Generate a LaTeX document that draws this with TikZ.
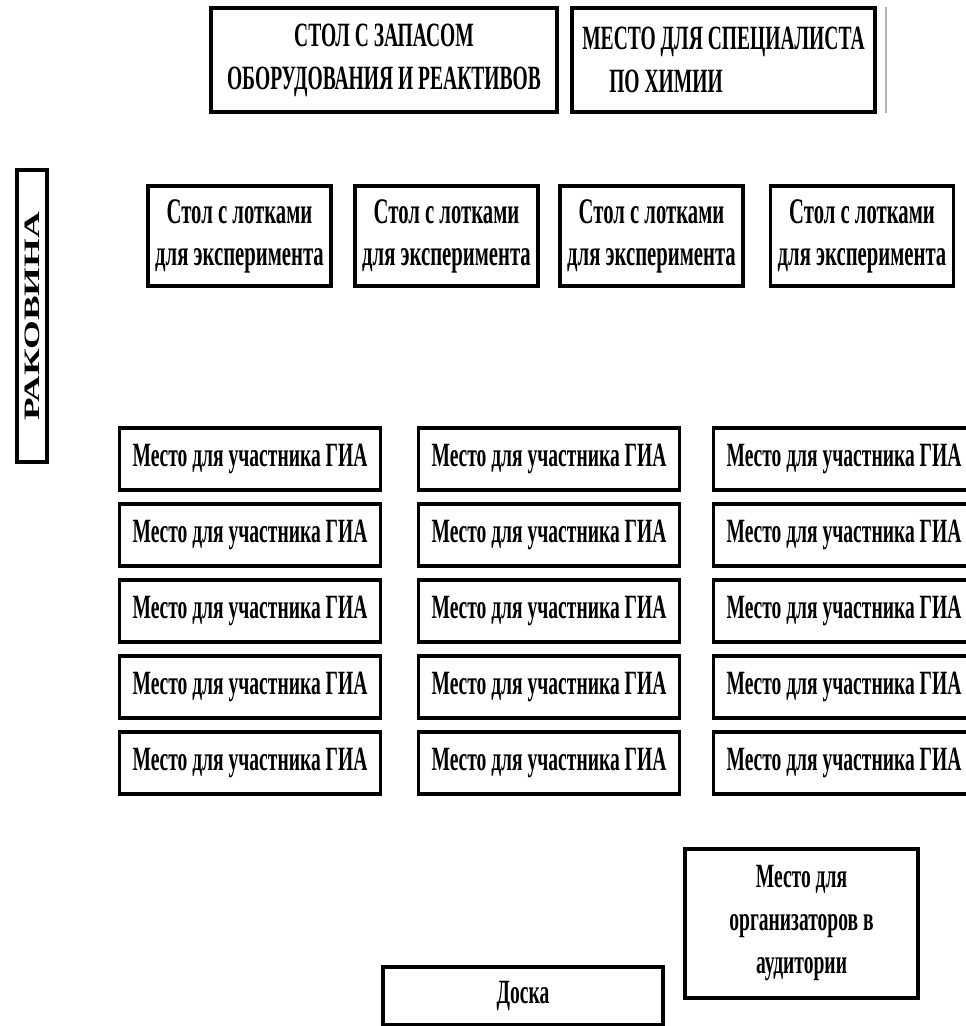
\documentclass[tikz,border=0pt]{standalone}
\usepackage{fontspec}
\setmainfont{Liberation Serif}
\newfontfamily\planfont{Liberation Serif}[FakeStretch=0.575]
\newfontfamily\sinkfont{Liberation Serif}[FakeStretch=1.68]
\usetikzlibrary{positioning}

\tikzset{
	box/.style = {draw, line width = 3.2pt, inner sep = 0pt, align = center,
		font = \planfont\bfseries\fontsize{34}{43}\selectfont},
	topbox/.style = {box, minimum height = 104pt},
	trays/.style = {box, minimum width = 183pt, minimum height = 100pt,
		font = \planfont\bfseries\fontsize{36}{42}\selectfont},
	seat/.style = {box, minimum width = 261pt, minimum height = 62pt}
}

\begin{document}
\begin{tikzpicture}[x = 1pt, y = 1pt, node distance = 76pt and 299pt, on grid]
	\useasboundingbox (0,0) rectangle (966,-1026);
	%\draw[help lines, step = 50] (0,0) grid (966,-1026);
	\clip (0,0) rectangle (966,-1026);
	\node (stock) [topbox, minimum width = 346pt] at (384,-60)
		{СТОЛ С ЗАПАСОМ\\ОБОРУДОВАНИЯ И РЕАКТИВОВ};
	\node (chemist) [topbox, minimum width = 303pt, align = left] at (723.5,-60)
		{МЕСТО ДЛЯ СПЕЦИАЛИСТА\\\hspace*{27pt}ПО ХИМИИ};
	\draw[gray!60, line width = 1.2pt] (886,-7) -- (886,-113);
	
	\node (sink) [draw, line width = 3.2pt, minimum width = 30pt, minimum height = 292pt]
		at (32,-316) {};
	\node [rotate = 90, font = \sinkfont\bfseries\fontsize{22}{26}\selectfont] at (sink.center) {РАКОВИНА};
	
	\node (t1) [trays] at (239.5,-236) {Стол с лотками\\для эксперимента};
	\node (t2) [trays, right = 207pt of t1] {Стол с лотками\\для эксперимента};
	\node (t3) [trays, right = 205pt of t2] {Стол с лотками\\для эксперимента};
	\node (t4) [trays, right = 210.5pt of t3] {Стол с лотками\\для эксперимента};
	
	\node (p11) [seat] at (250,-459) {Место для участника ГИА};
	\node (p12) [seat, right = of p11] {Место для участника ГИА};
	\node (p13) [seat, right = 295pt of p12] {Место для участника ГИА};
	
	\node (p21) [seat, below = of p11] {Место для участника ГИА};
	\node (p22) [seat, right = of p21] {Место для участника ГИА};
	\node (p23) [seat, right = 295pt of p22] {Место для участника ГИА};
	
	\node (p31) [seat, below = of p21] {Место для участника ГИА};
	\node (p32) [seat, right = of p31] {Место для участника ГИА};
	\node (p33) [seat, right = 295pt of p32] {Место для участника ГИА};
	
	\node (p41) [seat, below = of p31] {Место для участника ГИА};
	\node (p42) [seat, right = of p41] {Место для участника ГИА};
	\node (p43) [seat, right = 295pt of p42] {Место для участника ГИА};
	
	\node (p51) [seat, below = of p41] {Место для участника ГИА};
	\node (p52) [seat, right = of p51] {Место для участника ГИА};
	\node (p53) [seat, right = 295pt of p52] {Место для участника ГИА};
	
	\node (org) [box, minimum width = 233pt, minimum height = 149pt] at (801.5,-923.5)
		{Место для\\организаторов в\\аудитории};
	\node (board) [box, minimum width = 280pt, minimum height = 58pt] at (523,-996) {Доска};
\end{tikzpicture}
\end{document}
